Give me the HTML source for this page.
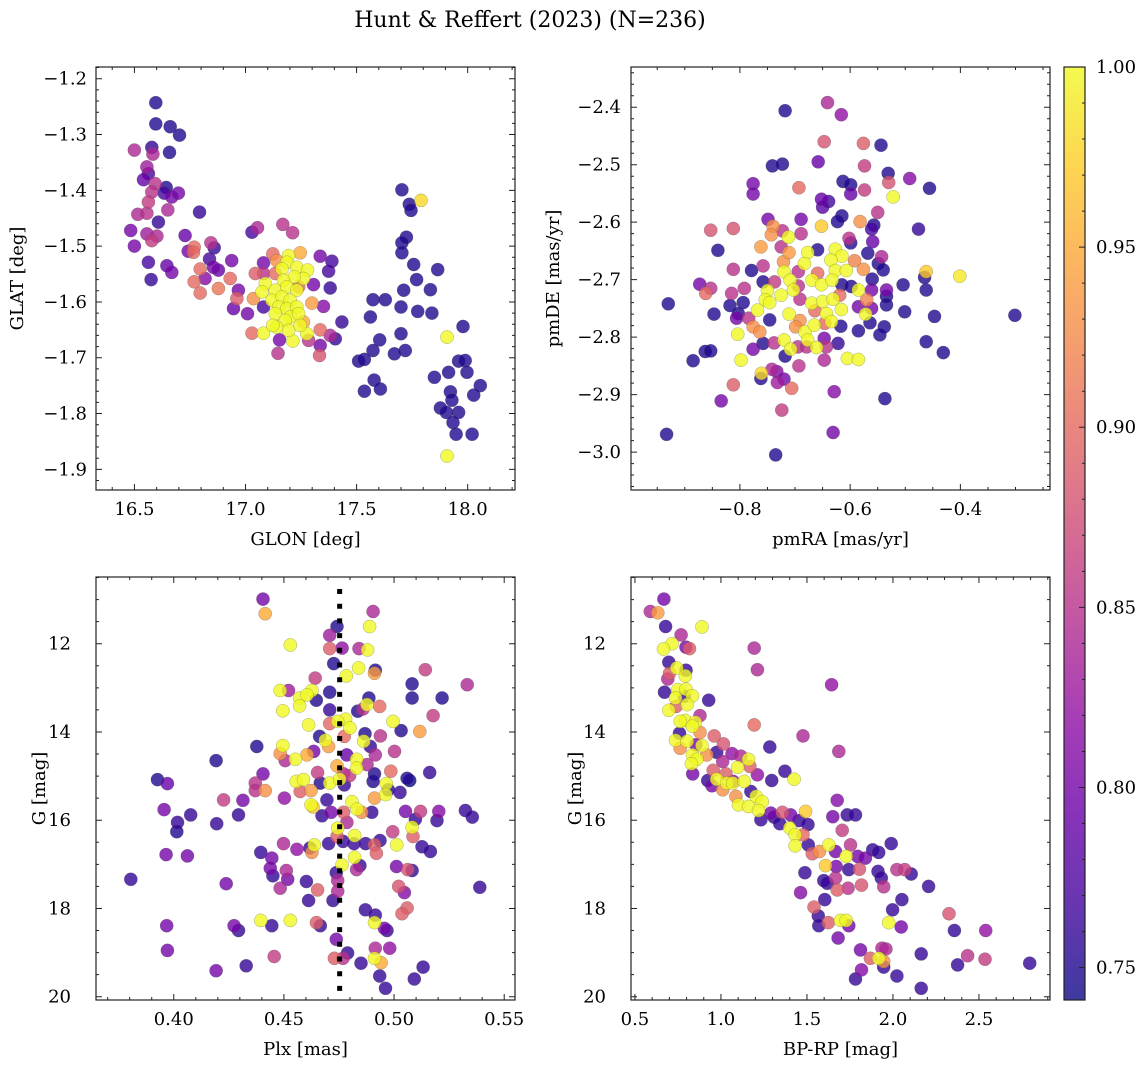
<!DOCTYPE html>
<html><head><meta charset="utf-8"><title>Hunt &amp; Reffert (2023)</title>
<style>
html,body{margin:0;padding:0;background:#fff;}
svg{display:block;font-family:"DejaVu Serif","Liberation Serif",serif;}
</style></head>
<body>
<svg id="fig" width="1148" height="1067" viewBox="0 0 1148 1067" xmlns="http://www.w3.org/2000/svg">
<defs>
<linearGradient id="plasma" x1="0" y1="1" x2="0" y2="0">
<stop offset="0" stop-color="#0d0887"/><stop offset="0.1" stop-color="#41049d"/><stop offset="0.2" stop-color="#6a00a8"/><stop offset="0.3" stop-color="#8f0da4"/><stop offset="0.4" stop-color="#b12a90"/><stop offset="0.5" stop-color="#cc4778"/><stop offset="0.6" stop-color="#e16462"/><stop offset="0.7" stop-color="#f2844b"/><stop offset="0.8" stop-color="#fca636"/><stop offset="0.9" stop-color="#fcce25"/><stop offset="1" stop-color="#f0f921"/>
</linearGradient>
</defs>
<text x="530" y="27" text-anchor="middle" font-size="22">Hunt &amp; Reffert (2023) (N=236)</text>
<g id="layer"></g>
</svg>
<script>
// ---- Panel 1: GLON vs GLAT ----
const p1_glon=[16.596,16.596,16.661,16.703,16.5,16.578,16.583,16.658,16.556,16.563,16.541,16.593,16.643,16.634,16.668,16.698,16.578,16.563,16.650,16.515,16.556,16.608,16.793,16.483,16.556,16.578,16.601,16.5,16.563,16.575,16.646,16.668,16.728,16.742,16.769,16.766,16.844,16.859,16.838,16.796,16.818,16.769,16.796,16.878,16.878,16.856,16.931,16.938,17.029,17.054,17.168,17.212,16.968,16.946,16.961,17.009,17.029,17.081,17.081,17.081,17.036,17.044,17.153,17.146,17.123,17.246,17.336,17.389,17.374,17.381,17.306,17.299,17.351,17.434,17.404,17.381,17.336,17.333,17.336,17.284,17.276,17.213,17.261,
17.194,17.186,17.164,17.231,17.279,17.261,17.219,17.171,17.089,17.074,17.134,17.186,17.231,17.119,17.164,17.201,17.149,17.186,17.231,17.134,17.201,17.239,17.179,17.141,17.194,17.246,17.123,17.141,17.134,17.239,17.081,
17.704,17.737,17.745,17.790,17.724,17.704,17.704,17.757,17.865,17.770,17.712,17.832,17.574,17.629,17.700,17.775,17.839,17.562,17.604,17.574,17.700,17.719,17.670,17.509,17.535,17.579,17.607,17.535,17.907,17.979,17.850,17.914,17.959,17.989,17.997,18.057,18.027,17.922,17.929,17.877,17.904,17.959,17.934,17.948,18.020,17.907];
const p1_glat=[-1.243,-1.281,-1.286,-1.301,-1.328,-1.323,-1.335,-1.332,-1.358,-1.370,-1.381,-1.388,-1.395,-1.405,-1.412,-1.405,-1.403,-1.421,-1.435,-1.443,-1.441,-1.457,-1.439,-1.472,-1.478,-1.490,-1.482,-1.500,-1.529,-1.560,-1.535,-1.547,-1.481,-1.509,-1.502,-1.511,-1.494,-1.503,-1.523,-1.541,-1.558,-1.564,-1.584,-1.576,-1.543,-1.538,-1.558,-1.526,-1.475,-1.467,-1.461,-1.476,-1.579,-1.612,-1.594,-1.621,-1.656,-1.656,-1.609,-1.530,-1.594,-1.549,-1.668,-1.692,-1.514,-1.512,-1.518,-1.527,-1.545,-1.575,-1.569,-1.602,-1.608,-1.636,-1.666,-1.660,-1.650,-1.696,-1.678,-1.669,-1.657,-1.670,-1.636,
-1.517,-1.529,-1.541,-1.538,-1.543,-1.558,-1.555,-1.561,-1.567,-1.582,-1.579,-1.573,-1.579,-1.597,-1.591,-1.597,-1.609,-1.612,-1.609,-1.621,-1.627,-1.621,-1.633,-1.645,-1.651,-1.642,-1.642,-1.526,-1.549,-1.573,-1.549,
-1.399,-1.425,-1.436,-1.418,-1.484,-1.494,-1.512,-1.533,-1.542,-1.560,-1.579,-1.578,-1.596,-1.596,-1.609,-1.617,-1.620,-1.627,-1.668,-1.687,-1.657,-1.687,-1.693,-1.706,-1.703,-1.740,-1.756,-1.760,-1.663,-1.644,-1.735,-1.726,-1.706,-1.705,-1.726,-1.750,-1.767,-1.761,-1.776,-1.790,-1.798,-1.798,-1.816,-1.837,-1.837,-1.876];
const p1_prob=[0.75,0.75,0.75,0.75,0.84,0.76,0.84,0.75,0.83,0.77,0.79,0.85,0.75,0.77,0.80,0.80,0.85,0.86,0.84,0.84,0.85,0.76,0.76,0.80,0.83,0.86,0.84,0.80,0.77,0.76,0.79,0.80,0.79,0.80,0.90,0.90,0.85,0.76,0.77,0.90,0.81,0.90,0.90,0.91,0.79,0.80,0.90,0.80,0.77,0.84,0.85,0.85,0.80,0.79,0.89,0.80,0.90,1.0,0.77,0.80,0.93,0.89,0.80,0.85,0.90,0.95,0.80,0.77,0.77,0.76,0.80,0.94,0.81,0.76,0.76,0.84,0.90,0.88,0.80,0.85,1.0,1.0,0.95,
1,1,1,1,1,1,1,1,1,1,1,1,1,1,1,1,1,1,1,1,1,1,1,1,1,1,1,0.93,0.90,0.90,0.85,
0.75,0.75,0.75,0.98,0.75,0.75,0.75,0.75,0.75,0.75,0.75,0.75,0.75,0.75,0.75,0.75,0.75,0.75,0.75,0.75,0.75,0.75,0.75,0.75,0.75,0.75,0.75,0.75,1.0,0.75,0.75,0.75,0.75,0.75,0.75,0.75,0.75,0.75,0.75,0.75,0.75,0.75,0.75,0.75,0.75,1.0];

// ---- Panel 2: pmRA vs pmDE ----
const p2_pmra=[-0.641,-0.616,-0.718,-0.647,-0.576,-0.544,-0.658,-0.741,-0.723,-0.574,-0.531,-0.530,-0.492,-0.456,-0.776,-0.776,-0.693,-0.613,-0.599,-0.599,-0.574,-0.522,-0.652,-0.639,-0.650,-0.550,-0.615,-0.623,-0.689,-0.749,-0.740,-0.743,-0.723,-0.712,-0.689,-0.652,-0.853,-0.812,-0.602,-0.582,-0.557,-0.561,-0.559,-0.476,-0.762,-0.840,-0.725,-0.711,-0.677,-0.659,-0.627,-0.615,-0.599,-0.568,-0.543,-0.721,-0.683,-0.635,-0.592,-0.576,-0.549,-0.540,-0.812,-0.779,-0.758,-0.720,-0.694,-0.659,-0.627,-0.607,-0.560,-0.465,-0.462,-0.401,-0.873,-0.862,-0.853,-0.758,-0.737,-0.709,-0.694,-0.669,-0.652,-0.633,-0.615,-0.598,-0.585,-0.561,-0.534,-0.504,-0.462,-0.930,-0.815,-0.792,-0.750,-0.754,-0.746,-0.725,-0.703,-0.691,-0.670,-0.650,-0.631,-0.619,-0.585,-0.570,-0.534,-0.534,-0.794,-0.818,-0.847,-0.803,-0.768,-0.711,-0.691,-0.664,-0.643,-0.616,-0.634,-0.572,-0.561,-0.501,-0.447,-0.301,-0.806,-0.784,-0.776,-0.764,-0.804,-0.746,-0.699,-0.682,-0.665,-0.646,-0.617,-0.585,-0.564,-0.538,-0.546,-0.677,-0.720,-0.738,-0.758,-0.776,-0.863,-0.853,-0.708,-0.695,-0.679,-0.661,-0.647,-0.643,-0.622,-0.462,-0.431,-0.885,-0.798,-0.718,-0.647,-0.605,-0.585,-0.693,-0.761,-0.762,-0.742,-0.733,-0.720,-0.732,-0.812,-0.706,-0.629,-0.834,-0.537,-0.724,-0.933,-0.631,-0.735];
const p2_pmde=[-2.392,-2.413,-2.406,-2.460,-2.463,-2.466,-2.495,-2.502,-2.499,-2.502,-2.515,-2.531,-2.524,-2.541,-2.533,-2.551,-2.540,-2.529,-2.535,-2.551,-2.544,-2.556,-2.560,-2.564,-2.574,-2.583,-2.589,-2.599,-2.595,-2.595,-2.607,-2.622,-2.615,-2.626,-2.620,-2.607,-2.614,-2.611,-2.628,-2.599,-2.605,-2.612,-2.634,-2.612,-2.643,-2.649,-2.643,-2.653,-2.653,-2.648,-2.647,-2.659,-2.636,-2.654,-2.660,-2.669,-2.672,-2.666,-2.667,-2.682,-2.672,-2.683,-2.682,-2.684,-2.676,-2.686,-2.686,-2.689,-2.684,-2.684,-2.699,-2.696,-2.686,-2.694,-2.708,-2.724,-2.715,-2.704,-2.704,-2.701,-2.711,-2.701,-2.709,-2.701,-2.709,-2.712,-2.718,-2.718,-2.718,-2.709,-2.718,-2.742,-2.724,-2.715,-2.719,-2.735,-2.740,-2.727,-2.718,-2.734,-2.741,-2.738,-2.734,-2.727,-2.747,-2.735,-2.729,-2.744,-2.740,-2.745,-2.760,-2.759,-2.753,-2.760,-2.771,-2.754,-2.759,-2.752,-2.773,-2.760,-2.750,-2.756,-2.764,-2.762,-2.767,-2.767,-2.782,-2.791,-2.795,-2.770,-2.782,-2.791,-2.779,-2.776,-2.781,-2.789,-2.775,-2.782,-2.796,-2.805,-2.805,-2.810,-2.811,-2.821,-2.825,-2.824,-2.821,-2.817,-2.817,-2.818,-2.802,-2.817,-2.811,-2.808,-2.827,-2.841,-2.840,-2.833,-2.840,-2.837,-2.839,-2.850,-2.863,-2.872,-2.856,-2.860,-2.873,-2.879,-2.883,-2.889,-2.895,-2.911,-2.907,-2.927,-2.969,-2.966,-3.005];
const p2_prob=[0.84,0.82,0.75,0.88,0.89,0.75,0.79,0.75,0.75,0.86,0.75,0.88,0.81,0.75,0.80,0.80,0.90,0.75,0.75,0.79,0.86,1.0,0.79,0.77,0.78,0.85,0.75,0.75,0.80,0.80,0.93,0.93,0.85,1.0,0.85,0.97,0.88,0.88,0.85,0.93,0.75,0.77,0.79,0.76,0.94,0.75,0.85,0.94,1.0,0.75,1.0,1.0,0.75,0.75,0.84,0.93,1.0,1.0,0.92,0.93,0.75,0.75,0.85,0.75,0.85,1.0,0.85,0.90,1.0,1.0,0.75,0.75,0.97,0.99,0.80,0.90,0.85,0.75,0.86,1.0,0.85,1.0,1.0,1.0,0.75,0.75,1.0,0.80,0.80,0.75,0.75,0.75,0.85,0.85,1.0,1.0,1.0,1.0,1.0,0.85,1.0,1.0,1.0,0.90,0.80,0.92,0.75,0.75,0.75,0.75,0.75,0.75,1.0,1.0,0.93,0.90,1.0,1.0,1.0,1.0,0.80,0.75,0.75,0.75,0.80,0.85,0.93,0.93,1.0,0.75,0.93,1.0,1.0,0.90,0.75,0.75,0.75,0.75,0.75,1.0,1.0,0.85,0.75,0.80,0.75,0.75,1.0,0.85,0.85,1.0,0.80,0.85,0.76,0.75,0.75,0.75,1.0,0.75,0.84,1.0,1.0,0.85,0.98,0.75,0.84,0.81,0.80,0.83,0.89,0.90,0.81,0.80,0.75,0.86,0.75,0.80,0.75];

// ---- Panel 3: Plx vs G ----
const p3_plx=[0.4405,0.4415,0.4905,0.4741,0.4889,0.4708,0.4529,0.4708,0.4764,0.4841,0.4880,0.4726,0.4783,0.4839,0.4915,0.4911,0.5142,0.5332,0.4642,0.4483,0.4521,0.4571,0.4627,0.4605,0.4571,0.4647,0.4708,0.4708,0.5082,0.5082,0.5218,0.4886,0.4877,0.4835,0.4859,0.4935,0.4495,0.5177,0.4780,0.4744,0.4800,0.4708,0.4612,0.4995,0.5117,0.5032,0.4774,0.4662,0.4688,0.4703,0.4868,0.4862,0.4892,0.4938,0.5002,0.4377,0.4495,0.4483,0.4552,0.4605,0.4635,0.4506,0.4192,0.4785,0.4830,0.4830,0.4741,0.4771,0.4915,0.4877,0.4911,0.4905,0.4985,0.5059,0.5071,0.5162,0.3926,0.3971,0.4405,0.4370,0.4370,0.4415,0.4556,0.4589,0.4574,0.4623,0.4653,0.4665,0.4708,0.4753,0.4774,0.4798,0.4965,0.4962,0.4911,0.4974,0.5027,0.4502,0.4226,0.4314,0.3956,0.4077,0.4017,0.4014,0.4195,0.4294,0.4623,0.4632,0.4695,0.4673,0.4714,0.4771,0.4809,0.4832,0.4853,0.4899,0.4786,0.4744,0.4741,0.4821,0.5052,0.5120,0.5097,0.5203,0.5195,0.5324,0.5355,0.5082,0.5086,0.4994,0.4936,0.4911,0.4920,0.5012,0.5127,0.5165,0.4818,0.4871,0.4703,0.4768,0.4618,0.4638,0.4627,0.4559,0.4498,0.4395,0.4445,0.3965,0.4062,0.4821,0.4845,0.4830,0.4764,0.4738,0.4744,0.4438,0.4450,0.4511,0.4517,0.4483,0.4602,0.4653,0.4612,0.4723,0.4744,0.5011,0.5062,0.5082,0.5021,0.5047,0.5059,0.5036,0.4870,0.4915,0.4911,0.4956,0.4968,0.3805,0.4238,0.4395,0.4529,0.4274,0.4294,0.4445,0.4648,0.4665,0.3968,0.5389,0.4738,0.4729,0.4768,0.4789,0.4850,0.4915,0.4980,0.4911,0.4941,0.4456,0.3971,0.4329,0.4192,0.4935,0.4961,0.5092,0.5132];
const p3_g=[10.99,11.32,11.27,11.61,11.61,11.81,12.03,12.11,12.10,12.11,12.14,12.45,12.73,12.55,12.60,12.67,12.59,12.93,12.78,13.06,13.06,13.23,13.06,13.16,13.41,13.28,13.10,13.50,12.91,13.23,13.23,13.23,13.38,13.53,13.48,13.42,13.52,13.63,13.71,13.76,13.91,13.81,13.84,13.76,13.99,13.97,14.10,14.10,14.19,14.33,14.04,14.21,14.33,14.09,14.44,14.33,14.31,14.49,14.62,14.52,14.44,14.65,14.65,14.52,14.62,14.82,14.77,14.95,14.52,14.74,14.95,15.12,14.89,15.05,15.10,14.92,15.08,15.17,14.95,15.16,15.33,15.33,15.12,15.08,15.35,15.33,14.92,15.16,15.16,15.07,15.20,14.99,15.17,15.42,15.50,15.31,15.37,15.50,15.54,15.55,15.76,15.88,16.05,16.26,16.08,15.88,15.65,15.70,15.54,15.90,15.82,15.82,15.58,15.75,15.82,15.82,16.05,16.18,16.37,16.35,15.80,15.80,15.98,15.80,16.01,15.78,15.93,16.16,16.37,16.26,16.46,16.56,16.75,16.56,16.60,16.71,16.53,16.53,16.53,16.48,16.63,16.56,16.73,16.66,16.53,16.73,16.86,16.78,16.81,16.84,17.03,17.12,17.01,17.19,17.37,17.09,17.26,17.14,17.34,17.54,17.39,17.58,17.82,17.82,17.61,17.05,17.12,17.14,17.50,17.64,17.99,18.12,18.03,18.15,18.32,18.45,18.50,17.34,17.44,18.27,18.27,18.39,18.50,18.39,18.32,18.39,18.39,17.52,18.70,19.13,19.13,19.01,19.24,18.90,18.90,19.13,19.23,19.09,18.95,19.30,19.41,19.53,19.81,19.60,19.33];
const p3_prob=[0.80,0.95,0.84,0.75,1.0,0.83,1.0,0.89,0.82,0.84,1.0,0.75,1.0,1.0,0.75,0.94,0.86,0.84,0.86,1.0,0.83,1.0,1.0,1.0,1.0,0.75,0.75,0.76,0.75,0.75,0.75,0.75,1.0,0.75,0.85,0.90,1.0,0.86,1.0,1.0,1.0,0.90,1.0,1.0,0.94,0.75,0.90,0.75,1.0,0.94,0.75,1.0,0.76,0.85,0.85,0.75,1.0,0.93,1.0,0.95,0.80,0.84,0.75,0.79,1.0,1.0,0.95,0.84,0.84,0.84,0.75,0.75,0.90,0.75,0.74,0.76,0.75,0.79,0.80,0.85,0.85,0.93,1.0,1.0,0.89,0.94,0.86,0.75,1.0,1.0,0.76,0.86,1.0,1.0,0.94,0.75,0.76,0.82,0.86,0.80,0.80,0.76,0.76,0.75,0.76,0.76,1.0,0.97,0.76,0.76,0.80,0.89,1.0,1.0,0.93,0.76,0.84,1.0,0.89,1.0,0.80,0.86,0.76,0.81,0.76,0.76,0.76,1.0,0.89,0.86,0.76,0.89,0.89,1.0,0.76,0.76,0.76,0.76,0.76,0.76,0.76,1.0,0.93,0.82,0.84,0.76,0.80,0.80,0.80,1.0,0.76,0.84,1.0,0.76,0.84,0.80,0.76,0.84,0.80,0.84,0.76,0.89,0.76,0.76,0.84,0.80,0.88,0.76,0.88,0.81,0.89,0.89,0.76,0.76,1.0,0.80,0.76,0.76,0.80,1.0,1.0,0.80,0.76,0.76,0.89,0.76,0.80,0.76,0.80,0.89,0.85,0.76,0.76,0.84,0.82,1.0,0.95,0.86,0.80,0.76,0.80,0.76,0.76,0.76,0.76];

// ---- Panel 4: BP-RP vs G ----
const p4_bprp=[0.668,0.589,0.633,0.678,0.890,0.768,0.716,0.666,0.797,0.817,1.193,1.212,0.697,0.743,0.797,0.793,0.701,0.691,1.643,0.672,0.749,0.797,0.736,0.787,0.834,0.803,0.739,0.697,0.929,0.878,0.793,0.763,0.851,0.834,0.878,1.193,0.759,0.736,0.803,0.763,0.855,0.890,0.961,1.014,1.477,1.284,1.685,0.834,0.861,0.828,0.917,0.975,1.010,1.064,1.116,1.160,1.097,1.168,1.212,0.836,1.372,1.425,1.295,0.923,0.955,0.975,1.029,1.071,1.033,1.068,1.135,0.948,1.010,1.087,1.174,1.205,1.240,1.102,1.160,1.218,1.232,1.290,1.357,1.309,1.342,1.405,1.492,1.454,1.506,1.477,1.400,1.431,1.431,1.676,1.650,1.734,1.782,1.705,1.508,1.531,1.573,1.627,1.666,1.728,1.753,1.608,1.670,1.743,1.805,1.795,1.840,1.882,1.917,1.990,1.488,1.463,1.598,1.618,1.666,1.676,1.739,1.817,1.913,1.932,1.946,2.023,2.068,2.106,2.207,1.541,1.566,1.604,2.052,1.998,1.569,1.624,1.695,1.728,1.743,1.975,2.048,2.326,2.357,2.539,1.681,1.811,1.936,1.959,1.869,1.917,1.946,1.946,2.164,2.376,2.434,2.535,2.795,1.817,1.782,2.023,2.164];
const p4_g=[10.99,11.27,11.30,11.61,11.62,11.80,12.00,12.12,12.08,12.11,12.10,12.59,12.42,12.55,12.60,12.73,12.67,12.80,12.93,13.10,13.04,13.03,13.23,13.19,13.18,13.38,13.42,13.51,13.28,13.63,13.74,13.76,13.78,13.87,14.01,13.84,14.03,14.19,14.21,14.37,14.29,14.31,14.09,14.27,14.09,14.34,14.44,14.52,14.62,14.72,14.52,14.46,14.67,14.49,14.55,14.62,14.80,14.78,14.97,14.95,14.89,15.07,15.10,15.10,14.87,15.07,14.95,15.12,15.16,15.16,15.12,15.22,15.31,15.46,15.35,15.46,15.58,15.65,15.69,15.78,15.99,15.84,15.82,15.93,16.08,15.88,15.80,16.01,16.10,16.33,16.18,16.33,16.58,15.55,15.92,15.88,15.88,16.23,16.56,16.76,16.71,16.56,16.71,16.82,16.56,17.03,17.05,17.12,17.11,16.82,16.86,16.67,16.73,16.53,17.19,17.64,17.37,17.43,17.31,17.58,17.54,17.47,17.16,17.31,17.51,17.12,17.12,17.22,17.50,17.97,18.17,17.80,17.80,18.03,18.39,18.32,18.27,18.27,18.39,18.32,18.42,18.12,18.50,18.50,18.67,18.94,18.90,18.92,19.13,19.13,19.20,19.33,19.03,19.28,19.07,19.15,19.24,19.39,19.60,19.53,19.81];
const p4_prob=[0.80,0.84,0.94,0.76,1.0,0.84,1.0,1.0,0.80,0.89,0.84,0.84,0.76,1.0,0.76,1.0,0.89,0.84,0.82,0.76,1.0,1.0,1.0,0.76,1.0,1.0,0.89,1.0,0.76,0.84,1.0,1.0,1.0,1.0,0.93,0.90,0.76,1.0,1.0,0.93,0.80,1.0,0.89,0.88,0.84,0.76,0.84,1.0,1.0,1.0,0.93,0.76,0.84,0.82,0.84,1.0,1.0,0.89,0.82,0.80,0.76,1.0,0.76,0.76,0.89,1.0,0.89,0.82,1.0,1.0,1.0,0.80,0.93,0.93,0.76,1.0,1.0,1.0,1.0,1.0,0.76,0.80,0.88,0.76,0.76,0.80,0.97,0.76,0.76,0.90,1.0,1.0,1.0,0.81,0.80,0.76,0.76,0.86,0.76,0.89,0.93,1.0,0.80,1.0,0.85,0.97,0.80,0.76,0.88,0.80,0.80,0.76,0.76,0.76,0.76,0.81,0.76,0.76,0.85,0.89,0.85,0.88,0.76,0.76,0.85,0.85,0.86,0.76,0.76,0.89,0.76,0.76,0.76,0.76,0.76,0.89,1.0,1.0,0.80,1.0,0.80,0.88,0.76,0.82,0.80,0.80,0.84,0.84,0.89,1.0,0.93,0.76,0.76,0.76,0.85,0.86,0.76,0.81,0.76,0.76,0.76];

// tick label arrays
const p1_xticks=[16.5,17.0,17.5,18.0], p1_xlabels=['16.5','17.0','17.5','18.0'];
const p1_yticks=[-1.2,-1.3,-1.4,-1.5,-1.6,-1.7,-1.8,-1.9], p1_ylabels=['−1.2','−1.3','−1.4','−1.5','−1.6','−1.7','−1.8','−1.9'];
const p2_xticks=[-0.8,-0.6,-0.4], p2_xlabels=['−0.8','−0.6','−0.4'];
const p2_yticks=[-2.4,-2.5,-2.6,-2.7,-2.8,-2.9,-3.0], p2_ylabels=['−2.4','−2.5','−2.6','−2.7','−2.8','−2.9','−3.0'];
const p3_xticks=[0.40,0.45,0.50,0.55], p3_xlabels=['0.40','0.45','0.50','0.55'];
const g_yticks=[12,14,16,18,20], g_ylabels=['12','14','16','18','20'];
const p4_xticks=[0.5,1.0,1.5,2.0,2.5], p4_xlabels=['0.5','1.0','1.5','2.0','2.5'];
const cb_ticks=[0.75,0.80,0.85,0.90,0.95,1.00], cb_labels=['0.75','0.80','0.85','0.90','0.95','1.00'];
const plx_ref=[0.4753];
const probMin=0.741, probMax=1.0;

const NS='http://www.w3.org/2000/svg';
const layer=document.getElementById('layer');
function mk(tag,attrs,parent){const e=document.createElementNS(NS,tag);for(const k in attrs)e.setAttribute(k,attrs[k]);(parent||layer).appendChild(e);return e;}
const stops=[[13,8,135],[65,4,157],[106,0,168],[143,13,164],[177,42,144],[204,71,120],[225,100,98],[242,132,75],[252,166,54],[252,206,37],[240,249,33]];
function plasma(p){let t=(p-probMin)/(probMax-probMin);t=Math.max(0,Math.min(1,t))*10;const i=Math.min(9,Math.floor(t)),f=t-i;const a=stops[i],b=stops[i+1];return 'rgb('+[0,1,2].map(k=>Math.round(a[k]+(b[k]-a[k])*f)).join(',')+')';}

function panel(c){
  const g=mk('g',{});
  
  
  const sx=v=>c.x0+(v-c.xd[0])/(c.xd[1]-c.xd[0])*(c.x1-c.x0);
  const sy=v=>c.y1+(v-c.yd[0])/(c.yd[1]-c.yd[0])*(c.y0-c.y1);
  const idx=c.xs.map((_,i)=>i).sort((a,b)=>c.ps[a]-c.ps[b]);
  const pg=mk('g',{},g);
  
  
  for(const i of idx){
    const px=sx(c.xs[i]),py=sy(c.ys[i]);
    const pt=mk('circle',{cx:px.toFixed(1),cy:py.toFixed(1),r:6.6,fill:plasma(c.ps[i]),'fill-opacity':0.8,stroke:'#555','stroke-opacity':0.6,'stroke-width':0.4},pg);
    
    
  }
  if(c.vline){for(const v of c.vline){const l=mk('line',{x1:sx(v),x2:sx(v),y1:c.y0+12,y2:c.y1,stroke:'#000','stroke-width':5,'stroke-dasharray':'5,9.7'},g);
    
    }}
  const box=mk('rect',{x:c.x0,y:c.y0,width:c.x1-c.x0,height:c.y1-c.y0,fill:'none',stroke:'#222','stroke-width':1.2},g);
  
  
  let d='';
  const xmn=Math.min(...c.xd),xmx=Math.max(...c.xd),ymn=Math.min(...c.yd),ymx=Math.max(...c.yd);
  for(let k=Math.ceil(xmn/c.xminor-1e-6);k*c.xminor<=xmx+1e-9;k++){const X=sx(k*c.xminor);d+=`M${X},${c.y1}v-3M${X},${c.y0}v3`;}
  for(let k=Math.ceil(ymn/c.yminor-1e-6);k*c.yminor<=ymx+1e-9;k++){const Y=sy(k*c.yminor);d+=`M${c.x0},${Y}h3M${c.x1},${Y}h-3`;}
  c.xt.forEach(v=>{const X=sx(v);d+=`M${X},${c.y1}v-6M${X},${c.y0}v6`;});
  c.yt.forEach(v=>{const Y=sy(v);d+=`M${c.x0},${Y}h6M${c.x1},${Y}h-6`;});
  mk('path',{d:d,stroke:'#222','stroke-width':1,fill:'none'},g);
  c.xt.forEach((v,i)=>{const t=mk('text',{x:sx(v),y:c.y1+25,'text-anchor':'middle','font-size':18},g);t.textContent=c.xl[i];
    
    });
  c.yt.forEach((v,i)=>{const t=mk('text',{x:c.ylx,y:sy(v)+6,'text-anchor':'end','font-size':18},g);t.textContent=c.yl[i];
    
    });
  const xt=mk('text',{x:(c.x0+c.x1)/2,y:c.y1+55,'text-anchor':'middle','font-size':18},g);xt.textContent=c.xtitle;
  
  
  const cy=(c.y0+c.y1)/2;
  const yt=mk('text',{x:c.ytx,y:cy,'text-anchor':'middle','font-size':18,transform:`rotate(-90 ${c.ytx} ${cy})`},g);yt.textContent=c.ytitle;
  
  
}

panel({name:'glon-glat-panel',x0:96,x1:515,y0:67,y1:490,xd:[16.327,18.213],yd:[-1.937,-1.179],xs:p1_glon,ys:p1_glat,ps:p1_prob,xt:p1_xticks,xl:p1_xlabels,yt:p1_yticks,yl:p1_ylabels,xminor:0.1,yminor:0.02,ylx:87,ytx:23,xtitle:'GLON [deg]',ytitle:'GLAT [deg]'});
panel({name:'pm-panel',x0:631,x1:1050,y0:67,y1:490,xd:[-0.9976,-0.2374],yd:[-3.066,-2.330],xs:p2_pmra,ys:p2_pmde,ps:p2_prob,xt:p2_xticks,xl:p2_xlabels,yt:p2_yticks,yl:p2_ylabels,xminor:0.05,yminor:0.02,ylx:621,ytx:559,xtitle:'pmRA [mas/yr]',ytitle:'pmDE [mas/yr]'});
panel({name:'plx-g-panel',x0:96,x1:515,y0:577,y1:1000,xd:[0.3647,0.5549],yd:[20.075,10.488],xs:p3_plx,ys:p3_g,ps:p3_prob,xt:p3_xticks,xl:p3_xlabels,yt:g_yticks,yl:g_ylabels,xminor:0.01,yminor:0.5,ylx:71,ytx:45,xtitle:'Plx [mas]',ytitle:'G [mag]',vline:plx_ref});
panel({name:'cmd-panel',x0:631,x1:1050,y0:577,y1:1000,xd:[0.477,2.913],yd:[20.075,10.488],xs:p4_bprp,ys:p4_g,ps:p4_prob,xt:p4_xticks,xl:p4_xlabels,yt:g_yticks,yl:g_ylabels,xminor:0.1,yminor:0.5,ylx:606,ytx:581,xtitle:'BP-RP [mag]',ytitle:'G [mag]'});

(function(){
  const x0=1064,x1=1085,y0=67,y1=1000;
  const cg=mk('g',{});
  
  
  mk('rect',{x:x0,y:y0,width:x1-x0,height:y1-y0,fill:'url(#plasma)','fill-opacity':0.8},cg);
  mk('rect',{x:x0,y:y0,width:x1-x0,height:y1-y0,fill:'none',stroke:'#222','stroke-width':1.2},cg);
  const sy=v=>y1+(v-probMin)/(probMax-probMin)*(y0-y1);
  let d='';
  for(let k=75;k<=100;k++){const Y=sy(k/100);d+=`M${x1},${Y}h-3`;}
  cb_ticks.forEach(v=>{const Y=sy(v);d+=`M${x1},${Y}h-6`;});
  mk('path',{d:d,stroke:'#222','stroke-width':1},cg);
  cb_ticks.forEach((v,i)=>{const t=mk('text',{x:1096,y:sy(v)+6,'font-size':18},cg);t.textContent=cb_labels[i];
    
    });
})();
</script>
</body></html>
